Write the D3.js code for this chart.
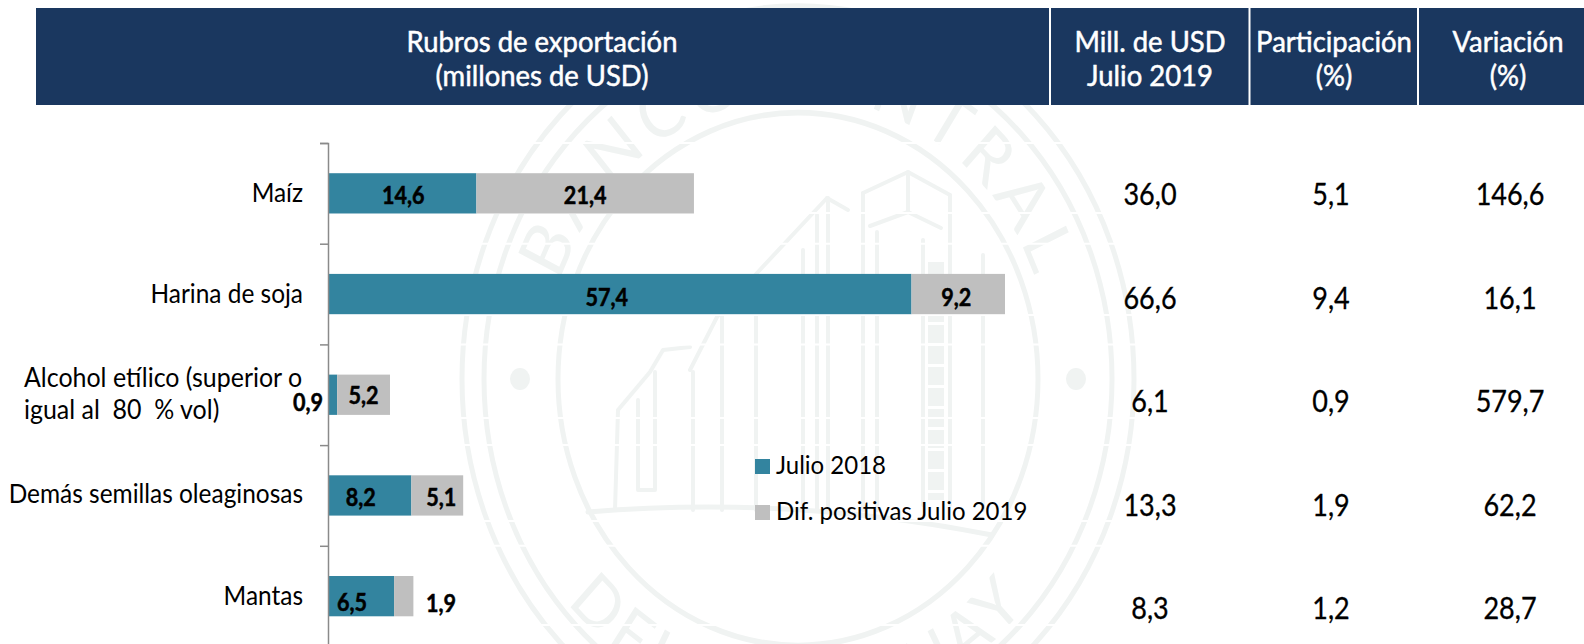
<!DOCTYPE html>
<html><head><meta charset="utf-8">
<script src="https://cdn.jsdelivr.net/npm/d3@7/dist/d3.min.js"></script>
<style>
html,body{margin:0;padding:0;background:#fff}
svg{display:block}
text{font-family:Lato,"Open Sans",sans-serif;white-space:pre}
</style></head><body>
<svg id="c" width="1584" height="644"></svg>
<script>
const categories = ["Maíz","Harina de soja","Alcohol etílico","Demás semillas oleaginosas","Mantas"];
const categoryLines = [["Maíz"],["Harina de soja"],["Alcohol etílico (superior o","igual al  80  % vol)"],["Demás semillas oleaginosas"],["Mantas"]];
const julio2018 = [14.6,57.4,0.9,8.2,6.5];
const difPositivas = [21.4,9.2,5.2,5.1,1.9];
const millUsd = ["36,0","66,6","6,1","13,3","8,3"];
const participacion = ["5,1","9,4","0,9","1,9","1,2"];
const variacion = ["146,6","16,1","579,7","62,2","28,7"];
const seriesNames = ["Julio 2018","Dif. positivas Julio 2019"];
const headers = [["Rubros de exportación","(millones de USD)"],["Mill. de USD","Julio 2019"],["Participación","(%)"],["Variación","(%)"]];

const TEAL="#33849F", GRAY="#BFBFBF", NAVY="#1A375F", WM="#F0F3F2";
const SX=0.9;
const svg=d3.select("#c");
const fmt=v=>String(v).replace(".",",");
function put(g,str,x,y,o={}){
  return g.append("text").attr("transform",`translate(${x},${y}) scale(${o.sx||SX},1)`)
    .attr("text-anchor",o.anchor||"middle").attr("font-size",o.size||24)
    .attr("font-weight",o.weight||400).attr("fill",o.fill||"#000")
    .attr("stroke",o.stroke?o.fill||"#000":null).attr("stroke-width",o.stroke||null)
    .attr("dominant-baseline",o.mid?"central":null).text(str);
}

/* ---------- watermark seal ---------- */
const wmG=svg.append("g").attr("fill","none").attr("stroke",WM).attr("stroke-linecap","round").attr("stroke-linejoin","round");
const seal=wmG.append("g").attr("transform","translate(798,379) scale(1,1.11)");
[[240,5],[314,5],[336,5]].forEach(([r,w])=>seal.append("circle").attr("r",r).attr("stroke-width",w));
[-278,278].forEach(x=>seal.append("circle").attr("cx",x).attr("r",10).attr("fill",WM).attr("stroke","none"));
const defs=svg.append("defs");
const arc=(id,r,a0,a1,large,sweep)=>{const p=a=>[r*Math.sin(a*Math.PI/180),-r*Math.cos(a*Math.PI/180)];
  const [x0,y0]=p(a0),[x1,y1]=p(a1);
  defs.append("path").attr("id",id).attr("d",`M${x0},${y0}A${r},${r} 0 ${large} ${sweep} ${x1},${y1}`);};
arc("wmTop",254,-125,125,1,1); arc("wmBot",306,-105,105,0,0);
const wmText=(id,str,size,sp)=>seal.append("text").attr("fill",WM).attr("stroke","none").attr("font-size",size)
  .attr("letter-spacing",sp).attr("text-anchor","middle")
  .append("textPath").attr("href","#"+id).attr("startOffset","50%").text(str);
wmText("wmTop","BANCO CENTRAL",66,6);
wmText("wmBot","DEL PARAGUAY",62,6);
const lines=[
 [[863,193],[908,172],[950,195]],[[870,226],[908,212],[941,228]],[[908,172],[908,212]],
 [[863,193],[863,510]],[[950,195],[950,505]],[[923,240],[923,505]],
 [[827,198],[757,273],[717,317],[690,370]],[[827,198],[848,210]],
 [[828,198],[828,510]],[[817,215],[817,510]],[[803,250],[803,510]],
 [[877,232],[877,510]],[[756,280],[756,510]],[[722,315],[722,510]],[[693,372],[693,510]],
 [[690,347],[663,350],[650,372],[618,410],[615,510]],[[638,400],[638,490],[655,490],[655,372]],
 [[983,255],[983,510]]
];
const ln=d3.line();
lines.forEach(p=>wmG.append("path").attr("d",ln(p)).attr("stroke-width",4));
wmG.append("path").attr("d","M588,512Q790,495 992,535").attr("stroke-width",5);
wmG.append("line").attr("x1",936).attr("x2",936).attr("y1",262).attr("y2",500)
  .attr("stroke-width",16).attr("stroke-linecap","butt").attr("stroke-dasharray","18 3");

/* ---------- scales ---------- */
const axisIndex=d3.scaleLinear().domain([0,5]).range([143,646.5]);
const y=d3.scaleBand().domain(categories).range(axisIndex.range()).paddingInner(0.6).paddingOuter(0.3);
const x=d3.scaleLinear().domain([0,66.6]).range([328,1005]);

/* white rules crossing the watermark */
const rows=[213,315,418,521,625];
svg.append("g").attr("stroke","#fff").attr("stroke-width",2).selectAll("line")
  .data(axisIndex.ticks(5).map(axisIndex).concat(rows)).join("line")
  .attr("x1",328).attr("x2",1584).attr("y1",d=>d).attr("y2",d=>d);

/* ---------- header ---------- */
const headG=svg.append("g");
headG.append("rect").attr("x",36).attr("y",8).attr("width",1548).attr("height",97).attr("fill",NAVY);
[1050,1249.5,1418].forEach(d=>headG.append("rect").attr("x",d-1).attr("y",8).attr("width",2).attr("height",97).attr("fill","#fff"));
[542,1150,1334,1508].forEach((cx,i)=>headers[i].forEach((s,j)=>
  put(headG,s,cx,[52,86][j],{size:28,sx:0.98,fill:"#fff",stroke:0.5})));

/* ---------- stacked bars ---------- */
const stack=d3.stack().keys(["a","b"])(categories.map((c,i)=>({c,a:julio2018[i],b:difPositivas[i]})));
svg.append("g").selectAll("g").data(stack).join("g").attr("fill",(d,i)=>[TEAL,GRAY][i])
  .selectAll("rect").data(d=>d).join("rect")
  .attr("x",d=>x(d[0])).attr("width",d=>x(d[1])-x(d[0]))
  .attr("y",d=>y(d.data.c)).attr("height",y.bandwidth());

/* ---------- axis ---------- */
const ax=svg.append("g").attr("transform","translate(328,0)")
  .call(d3.axisLeft(axisIndex).ticks(5).tickSize(8).tickFormat(""));
ax.selectAll("path,line").attr("stroke","#8a8a8a").attr("stroke-width",1.5);

/* ---------- category labels ---------- */
const catG=svg.append("g");
const catBase=[202,303,null,503,605];
categoryLines.forEach((ls,i)=>{
  if(ls.length>1){ ls.forEach((s,j)=>put(catG,s,24,[387,419][j],{anchor:"start",size:26,sx:0.96})); }
  else put(catG,ls[0],303,catBase[i],{anchor:"end",size:26,sx:0.94});
});

/* ---------- value labels ---------- */
const valG=svg.append("g");
const nudgeA=[1,-13,-24,-9,-9], nudgeB=[0,-2,0,4,null];
const lblDy=[1,2.5,7,1,5];
categories.forEach((c,i)=>{
  const cy=y(c)+y.bandwidth()/2;
  const mA=i===2?308:(x(0)+x(julio2018[i]))/2+nudgeA[i];
  put(valG,fmt(julio2018[i]),mA,cy+lblDy[i],{size:24,weight:700,mid:true,stroke:0.5});
  const t=julio2018[i]+difPositivas[i];
  const mB=i===4?441:(x(julio2018[i])+x(t))/2+nudgeB[i];
  put(valG,fmt(difPositivas[i]),mB,cy+(i===2?0:lblDy[i])+(i===4?1:0),{size:24,weight:700,mid:true,stroke:0.5});
});

/* ---------- table columns ---------- */
const tabG=svg.append("g");
const rowY=[193,297,400,504,607];
[[millUsd,1150],[participacion,1331],[variacion,1510]].forEach(([col,cx])=>
  col.forEach((s,i)=>put(tabG,s,cx,rowY[i],{size:30,sx:0.9,mid:true,stroke:0.3})));

/* ---------- legend ---------- */
const leg=svg.append("g");
seriesNames.forEach((s,i)=>{
  const yy=[459,505][i];
  leg.append("rect").attr("x",755).attr("y",yy).attr("width",15).attr("height",15).attr("fill",[TEAL,GRAY][i]);
  put(leg,s,776,yy+15,{anchor:"start",size:25,sx:0.96});
});
</script>
</body></html>
